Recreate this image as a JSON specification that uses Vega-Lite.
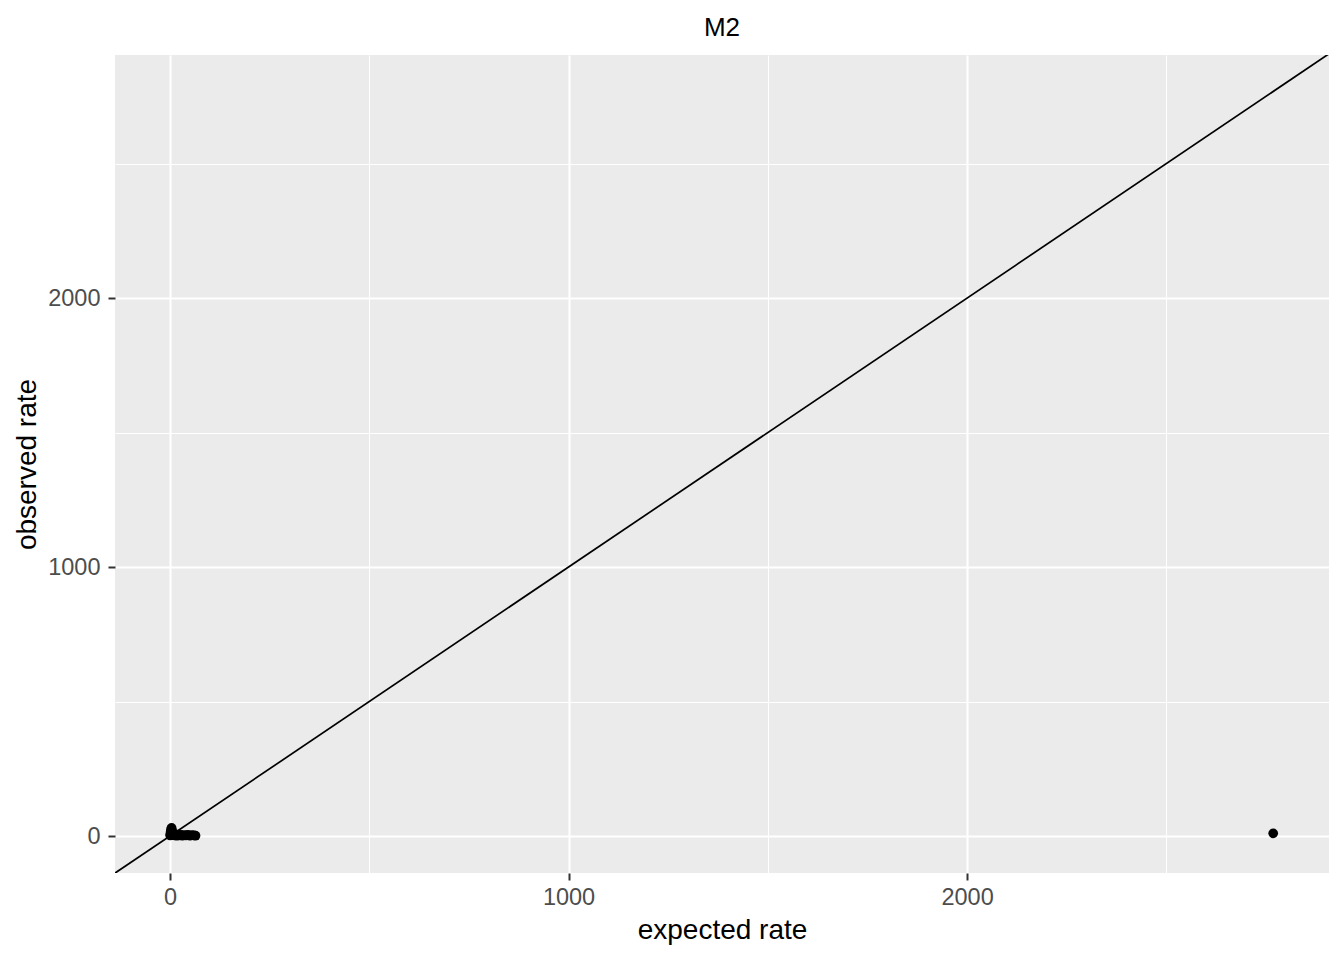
{
  "$schema": "https://vega.github.io/schema/vega-lite/v6.json",
  "width": 1214,
  "height": 818,
  "autosize": "none",
  "padding": {"left": 115, "top": 55, "right": 15, "bottom": 87},
  "background": "white",
  "title": {
    "text": "M2",
    "fontSize": 26,
    "fontWeight": "normal",
    "font": "Liberation Sans",
    "color": "black",
    "anchor": "middle",
    "offset": 14
  },
  "datasets": {
    "points": [
      {"expected": 0.5, "observed": 2},
      {"expected": 1, "observed": 6},
      {"expected": 1.5, "observed": 12},
      {"expected": 2, "observed": 18},
      {"expected": 3, "observed": 26},
      {"expected": 4, "observed": 30},
      {"expected": 5, "observed": 22},
      {"expected": 6, "observed": 14},
      {"expected": 7, "observed": 8},
      {"expected": 8, "observed": 3},
      {"expected": 10, "observed": 6},
      {"expected": 12, "observed": 2},
      {"expected": 14, "observed": 4},
      {"expected": 17, "observed": 1},
      {"expected": 20, "observed": 5},
      {"expected": 23, "observed": 2},
      {"expected": 27, "observed": 4},
      {"expected": 31, "observed": 1},
      {"expected": 35, "observed": 3},
      {"expected": 40, "observed": 2},
      {"expected": 45, "observed": 4},
      {"expected": 50, "observed": 1},
      {"expected": 55, "observed": 3},
      {"expected": 60, "observed": 2},
      {"expected": 64, "observed": 1},
      {"expected": 2768, "observed": 10}
    ],
    "identity": [
      {"expected": -138, "observed": -138},
      {"expected": 2908, "observed": 2908}
    ]
  },
  "layer": [
    {
      "data": {"name": "identity"},
      "mark": {"type": "line", "color": "black", "strokeWidth": 1.7, "clip": true},
      "encoding": {
        "x": {"field": "expected", "type": "quantitative"},
        "y": {"field": "observed", "type": "quantitative"}
      }
    },
    {
      "data": {"name": "points"},
      "mark": {"type": "point", "filled": true, "color": "black", "opacity": 1, "size": 95},
      "encoding": {
        "x": {
          "field": "expected",
          "type": "quantitative",
          "title": "expected rate",
          "scale": {"domain": [-138, 2908], "nice": false, "zero": false},
          "axis": {
            "values": [0, 500, 1000, 1500, 2000, 2500],
            "format": "d",
            "labelExpr": "datum.value % 1000 === 0 ? datum.label : ''",
            "domain": false,
            "grid": true,
            "gridColor": "white",
            "gridWidth": {"condition": {"test": "datum.value % 1000 === 0", "value": 2.1}, "value": 1},
            "tickOpacity": {"condition": {"test": "datum.value % 1000 === 0", "value": 1}, "value": 0},
            "tickColor": "#333333",
            "tickWidth": 2,
            "tickSize": 7,
            "labelFont": "Liberation Sans",
            "labelFontSize": 23.5,
            "labelColor": "#4D4D4D",
            "labelPadding": 5,
            "titleFont": "Liberation Sans",
            "titleFontSize": 28,
            "titleFontWeight": "normal",
            "titleColor": "black",
            "titlePadding": 8
          }
        },
        "y": {
          "field": "observed",
          "type": "quantitative",
          "title": "observed rate",
          "scale": {"domain": [-137.5, 2903.5], "nice": false, "zero": false},
          "axis": {
            "values": [0, 500, 1000, 1500, 2000, 2500],
            "format": "d",
            "labelExpr": "datum.value % 1000 === 0 ? datum.label : ''",
            "domain": false,
            "grid": true,
            "gridColor": "white",
            "gridWidth": {"condition": {"test": "datum.value % 1000 === 0", "value": 2.1}, "value": 1},
            "tickOpacity": {"condition": {"test": "datum.value % 1000 === 0", "value": 1}, "value": 0},
            "tickColor": "#333333",
            "tickWidth": 2,
            "tickSize": 7,
            "labelFont": "Liberation Sans",
            "labelFontSize": 23.5,
            "labelColor": "#4D4D4D",
            "labelPadding": 8,
            "titleFont": "Liberation Sans",
            "titleFontSize": 28,
            "titleFontWeight": "normal",
            "titleColor": "black",
            "titlePadding": 6
          }
        }
      }
    }
  ],
  "config": {
    "view": {"fill": "#EBEBEB", "stroke": null}
  }
}
